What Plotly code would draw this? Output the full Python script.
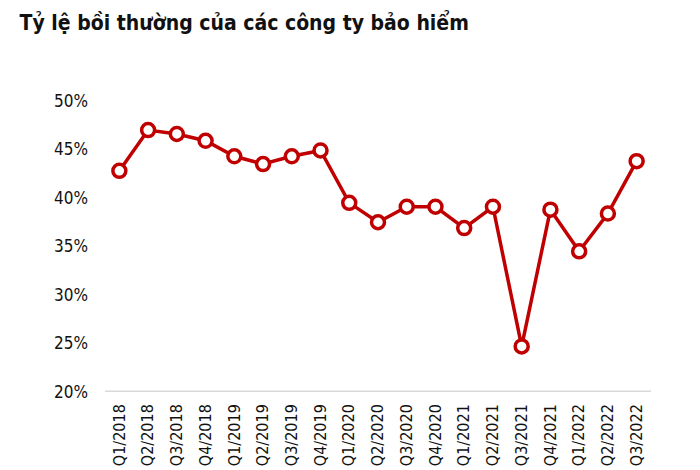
import plotly.graph_objects as go

# Quarters and claim ratio (%)
quarters = ["Q1/2018", "Q2/2018", "Q3/2018", "Q4/2018",
            "Q1/2019", "Q2/2019", "Q3/2019", "Q4/2019",
            "Q1/2020", "Q2/2020", "Q3/2020", "Q4/2020",
            "Q1/2021", "Q2/2021", "Q3/2021", "Q4/2021",
            "Q1/2022", "Q2/2022", "Q3/2022"]
claim_ratio = [42.8, 47.0, 46.6, 45.9,
               44.3, 43.5, 44.3, 44.9,
               39.5, 37.5, 39.1, 39.1,
               36.9, 39.1, 24.7, 38.8,
               34.5, 38.4, 43.8]

y_ticks = [20, 25, 30, 35, 40, 45, 50]
y_labels = ["20%", "25%", "30%", "35%", "40%", "45%", "50%"]

red = "#C00000"
narrow = "DejaVu Sans Condensed, Liberation Sans Narrow, sans-serif"

fig = go.Figure()

fig.add_trace(go.Scatter(
    x=quarters,
    y=claim_ratio,
    mode="lines+markers",
    line=dict(color=red, width=3.5),
    marker=dict(symbol="circle", size=13, color="white",
                line=dict(color=red, width=3.5)),
    cliponaxis=False,
    hoverinfo="x+y",
))

fig.update_layout(
    width=700,
    height=470,
    margin=dict(l=105, r=49, t=101, b=78, autoexpand=False),
    paper_bgcolor="white",
    plot_bgcolor="white",
    showlegend=False,
    title=dict(
        text="<b>Tỷ lệ bồi thường của các công ty bảo hiểm</b>",
        x=0.028, xanchor="left",
        y=0.952, yanchor="middle",
        font=dict(family=narrow, size=21, color="#111111"),
    ),
)

fig.update_xaxes(
    type="category",
    range=[-0.5, len(quarters) - 0.5],
    tickangle=-90,
    showgrid=False,
    showline=False,
    zeroline=False,
    ticks="",
    automargin=False,
    ticklabelstandoff=8,
    tickfont=dict(family=narrow, size=16, color="#111111"),
)

fig.update_yaxes(
    range=[20, 50],
    tickvals=y_ticks,
    ticktext=y_labels,
    showgrid=False,
    zeroline=False,
    showline=False,
    ticks="",
    automargin=False,
    ticklabelstandoff=16,
    tickfont=dict(family=narrow, size=17, color="#111111"),
)

# light baseline at 20%
fig.add_shape(type="line", xref="paper", yref="y",
              x0=0, x1=1, y0=20, y1=20,
              line=dict(color="#D9D9D9", width=3), layer="below")

fig.write_html("out.html", config={"displayModeBar": False},
               post_script="document.body.style.margin='0';")
